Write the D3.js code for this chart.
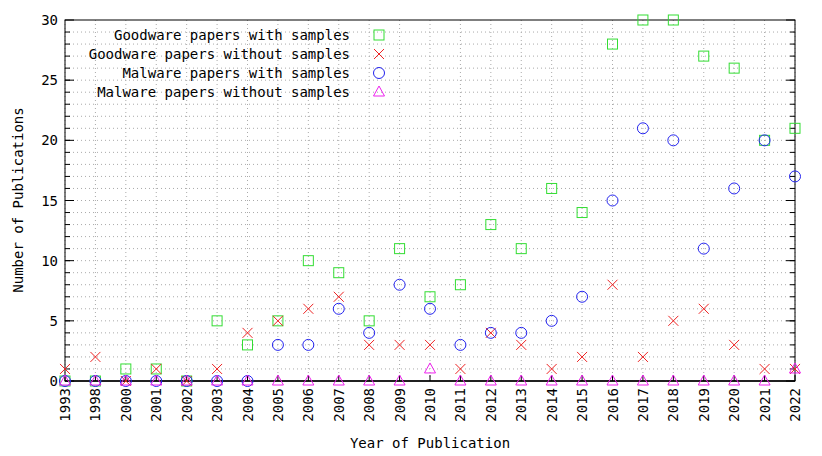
<!DOCTYPE html><html><head><script src="https://cdn.jsdelivr.net/npm/d3@7"></script>
<style>body{margin:0;background:#fff}text{font-family:"DejaVu Sans Mono",monospace;font-size:14px}</style></head><body>
<svg id="c" width="822" height="456"></svg>
<script>
const years=["1993","1998","2000","2001","2002","2003","2004","2005","2006","2007","2008","2009","2010","2011","2012","2013","2014","2015","2016","2017","2018","2019","2020","2021","2022"];
const goodWith=[0,0,1,1,0,5,3,5,10,9,5,11,7,8,13,11,16,14,28,30,30,27,26,20,21];
const goodWithout=[1,2,0,1,0,1,4,5,6,7,3,3,3,1,4,3,1,2,8,2,5,6,3,1,1];
const malWith=[0,0,0,0,0,0,0,3,3,6,4,8,6,3,4,4,5,7,15,21,20,11,16,20,17];
const malWithout=[0,0,0,0,0,0,0,0,0,0,0,0,1,0,0,0,0,0,0,0,0,0,0,0,1];
const yTicks=[0,5,10,15,20,25,30];
const svg=d3.select("#c");
const L=65,R=795,T=20,B=381;
const x=d3.scalePoint().domain(years).range([L,R]);
const y=d3.scaleLinear().domain([0,30]).range([B,T]);
const g=svg.append("g");
g.selectAll(".hg").data(d3.range(1,30)).join("line").attr("x1",L).attr("x2",R).attr("y1",d=>y(d)).attr("y2",d=>y(d)).attr("stroke","#aaa").attr("stroke-dasharray","1,3");
g.selectAll(".vg").data(years).join("line").attr("x1",d=>x(d)).attr("x2",d=>x(d)).attr("y1",T).attr("y2",B).attr("stroke","#aaa").attr("stroke-dasharray","1,3");
g.selectAll(".mt").data(d3.range(1,30)).join("line").attr("x1",L).attr("x2",L+5).attr("y1",d=>y(d)).attr("y2",d=>y(d)).attr("stroke","#000");
g.selectAll(".mt2").data(d3.range(1,30)).join("line").attr("x1",R).attr("x2",R-5).attr("y1",d=>y(d)).attr("y2",d=>y(d)).attr("stroke","#000");
g.selectAll(".Mt").data(yTicks).join("line").attr("x1",L).attr("x2",L+9).attr("y1",d=>y(d)).attr("y2",d=>y(d)).attr("stroke","#000");
g.selectAll(".Mt2").data(yTicks).join("line").attr("x1",R).attr("x2",R-9).attr("y1",d=>y(d)).attr("y2",d=>y(d)).attr("stroke","#000");
g.selectAll(".yl").data(yTicks).join("text").attr("x",L-7).attr("y",d=>y(d)+5).attr("text-anchor","end").text(d=>d);
g.selectAll(".xt").data(years).join("line").attr("x1",d=>x(d)).attr("x2",d=>x(d)).attr("y1",B).attr("y2",B-6).attr("stroke","#000");
g.selectAll(".xl").data(years).join("text").attr("transform",d=>`translate(${x(d)+5},${B+7}) rotate(-90)`).attr("text-anchor","end").text(d=>d);
g.append("rect").attr("x",L).attr("y",T).attr("width",R-L).attr("height",B-T).attr("fill","none").attr("stroke","#000");
g.append("line").attr("x1",L).attr("x2",R).attr("y1",y(0)).attr("y2",y(0)).attr("stroke","#000").attr("stroke-width",1.5);
svg.append("text").attr("x",430).attr("y",448).attr("text-anchor","middle").text("Year of Publication");
svg.append("text").attr("transform","translate(23,200) rotate(-90)").attr("text-anchor","middle").text("Number of Publications");
const sq=(sel,col)=>sel.append("rect").attr("x",-5).attr("y",-5).attr("width",10).attr("height",10).attr("fill","none").attr("stroke",col);
const cr=(sel,col)=>sel.append("path").attr("d","M-5,-5L5,5M-5,5L5,-5").attr("stroke",col).attr("fill","none");
const ci=(sel,col)=>sel.append("circle").attr("r",5.5).attr("fill","none").attr("stroke",col);
const tr=(sel,col)=>sel.append("path").attr("d","M0,-6L5.5,4L-5.5,4Z").attr("fill","none").attr("stroke",col);
const series=[["Goodware papers with samples",goodWith,sq,"#33dd33"],["Goodware papers without samples",goodWithout,cr,"#ee2222"],["Malware papers with samples",malWith,ci,"#2222ee"],["Malware papers without samples",malWithout,tr,"#ee22ee"]];
series.forEach(([name,vals,fn,col],i)=>{
  vals.forEach((v,j)=>fn(svg.append("g").attr("transform",`translate(${x(years[j])},${y(v)})`),col));
  const ly=35+i*19;
  svg.append("text").attr("x",350).attr("y",ly+5).attr("text-anchor","end").text(name);
  fn(svg.append("g").attr("transform",`translate(379,${ly})`),col);
});
</script></body></html>
